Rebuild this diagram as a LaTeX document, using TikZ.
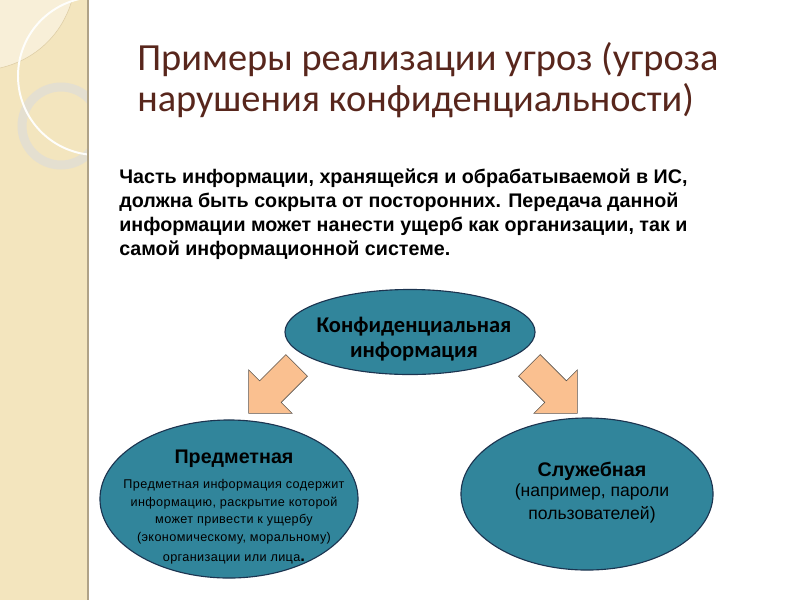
\documentclass[tikz,border=0pt]{standalone}
\usepackage{fontspec}
\setmainfont{Liberation Sans}
\newfontfamily\calfont{Carlito}
\usetikzlibrary{shapes.geometric,shapes.arrows,positioning}
\definecolor{stripbeige}{RGB}{243,229,190}
\definecolor{striplight}{RGB}{248,239,216}
\definecolor{stripline}{RGB}{222,205,165}
\definecolor{stripedge}{RGB}{175,162,135}
\definecolor{ringgrey}{RGB}{228,223,208}
\definecolor{titlebrown}{RGB}{88,38,28}
\definecolor{blobteal}{RGB}{49,133,155}
\definecolor{blobedge}{RGB}{28,52,80}
\definecolor{arrowpeach}{RGB}{250,192,144}
\definecolor{arrowedge}{RGB}{90,85,80}

\begin{document}
\begin{tikzpicture}[x=0.025cm, y=-0.025cm,
    blob/.style={ellipse, draw=blobedge, fill=blobteal, inner sep=0pt, thick},
    bigarrow/.style={single arrow, draw=arrowedge, fill=arrowpeach,
      minimum height=1.7cm, inner xsep=0pt, inner ysep=0.375cm,
      single arrow head extend=0.39cm, single arrow head indent=0pt},
    titletxt/.style={font=\calfont\fontsize{27.3}{29.5}\selectfont, text=titlebrown,
      align=left, inner sep=0pt},
    introtxt/.style={font=\bfseries\fontsize{14}{17}\selectfont, align=left, inner sep=0pt},
    blobhead/.style={font=\bfseries\fontsize{14}{17}\selectfont, align=center, inner sep=0pt},
    blobsmall/.style={font=\addfontfeature{LetterSpace=3}\fontsize{9}{12.5}\selectfont,
      align=center, inner sep=0pt},
    blobbody/.style={font=\fontsize{12.5}{16.5}\selectfont, align=center, inner sep=0pt}
  ]
    \useasboundingbox (0,0) rectangle (800,600);

    % Left strip
    \begin{scope}
      \clip (0,0) rectangle (88,600);
      \fill[stripbeige] (0,0) rectangle (88,600);
      \fill[striplight] (0,0) -- (72,0) .. controls (62,35) and (35,60) .. (0,68) -- cycle;
      \draw[stripline] (72,0) .. controls (62,35) and (35,60) .. (0,68);
      \draw[ringgrey, line width=6.4pt] (61,126) circle (39);
      \draw[white!95!stripbeige, line width=1.4pt] (97,76) circle (79);
    \end{scope}
    \draw[stripedge, line width=1.2pt] (88,0) -- (88,600);

    % Title and text
    \node[titletxt, anchor=north west] (title) at (137,42)
      {Примеры реализации угроз (угроза\\нарушения конфиденциальности)};
    \node[introtxt, anchor=north west] (intro) at (119,169)
      {Часть информации, хранящейся и обрабатываемой в ИС,\\
       должна быть сокрыта от посторонних. Передача данной\\
       информации может нанести ущерб как организации, так и\\
       самой информационной системе.};

    % Ellipses
    \node[blob, minimum width=6.25cm, minimum height=2.125cm] (conf) at (410,332) {};
    \node[font=\calfont\bfseries\fontsize{16}{17.5}\selectfont, align=center, inner sep=0pt]
      (conflbl) at (414,339) {Конфиденциальная\\информация};

    \node[blob, minimum width=6.45cm, minimum height=3.95cm] (pred) at (229,499) {};
    \node[blobhead] (predlbl) at (234,459) {Предметная};
    \node[blobsmall, below=8pt of predlbl] (predtxt)
      {Предметная информация содержит\\информацию, раскрытие которой\\
       может привести к ущербу\\(экономическому, моральному)\\[2pt]
       организации или лица{\bfseries\fontsize{12}{12}\selectfont .}};

    \node[blob, minimum width=6.3cm, minimum height=3.8cm] (serv) at (587,494) {};
    \node[blobhead] (servlbl) at (592,471) {Служебная};
    \node[blobbody, below=2pt of servlbl] (servtxt) {(например, пароли\\пользователей)};

    % Arrows
    \node[bigarrow, rotate=225] (larrow) at (278,384) {};
    \node[bigarrow, rotate=-45] (rarrow) at (548,384) {};
\end{tikzpicture}
\end{document}
